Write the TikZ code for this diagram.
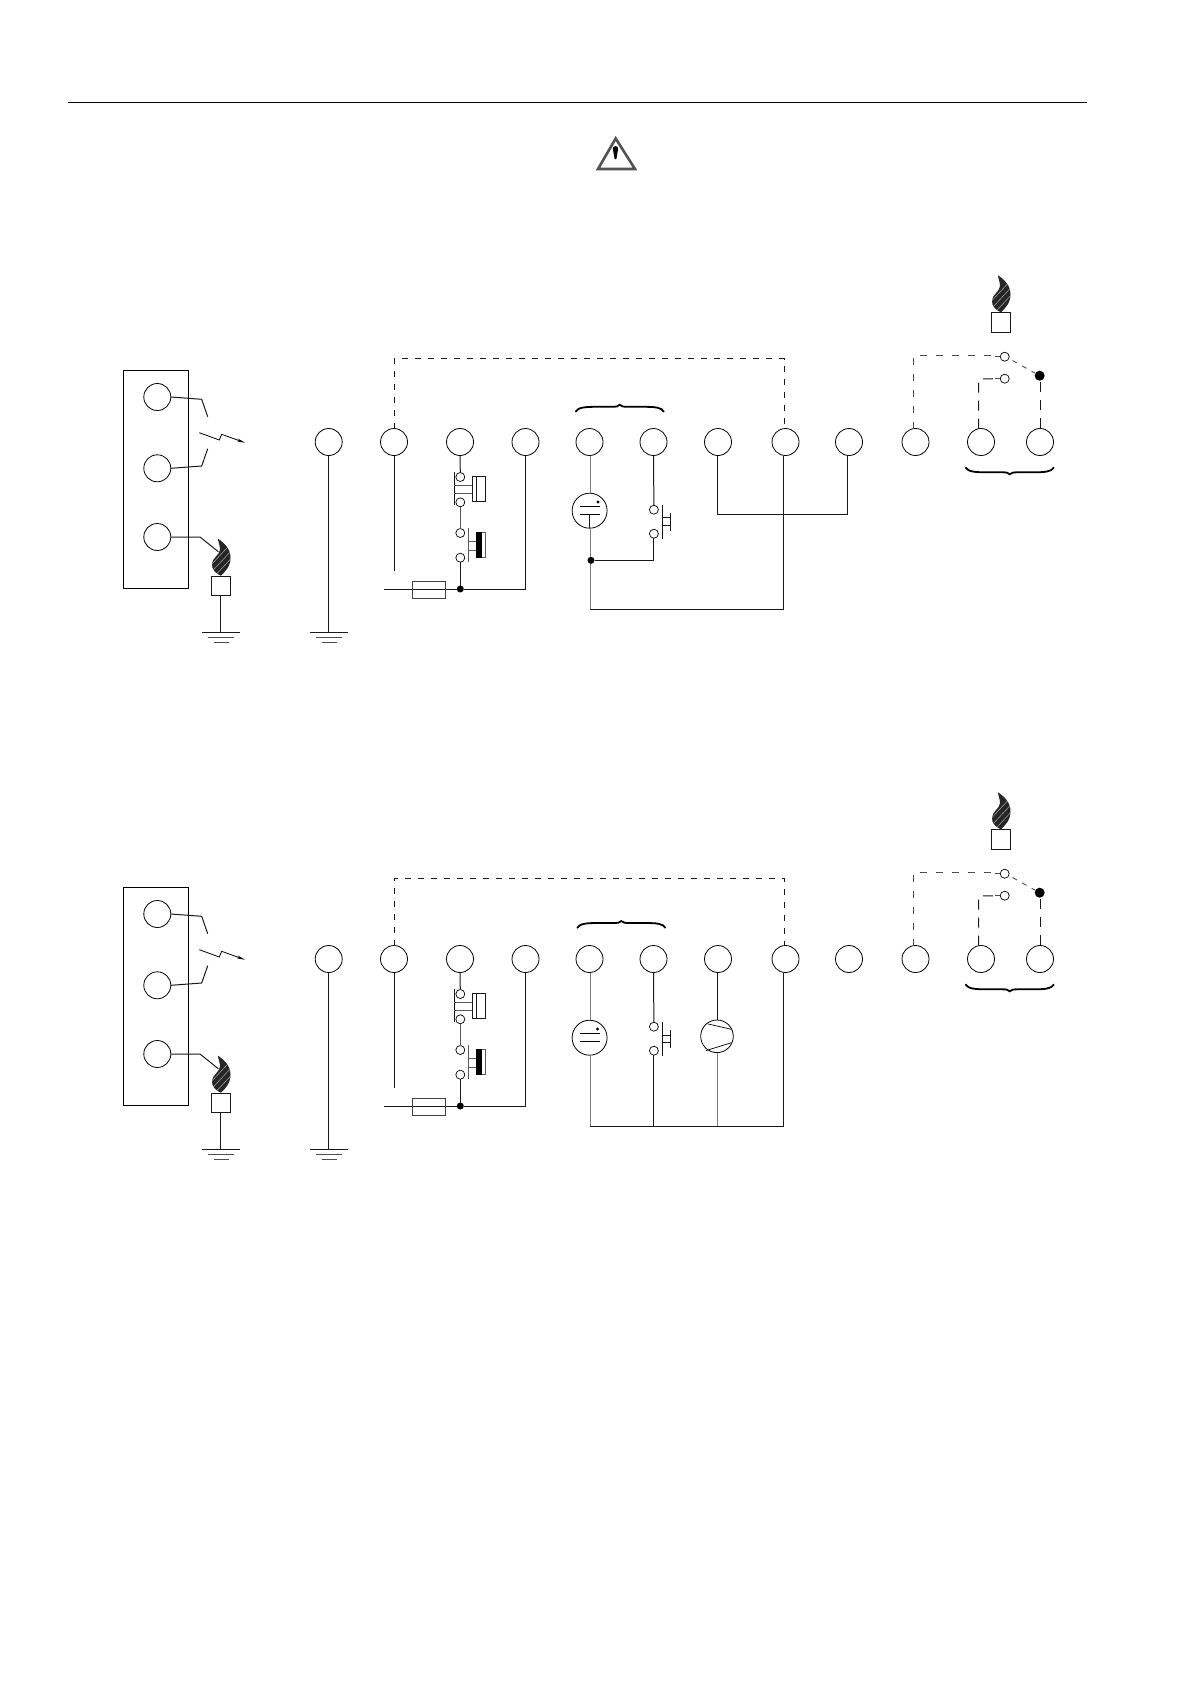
\documentclass[tikz,border=0pt]{standalone}
\usetikzlibrary{arrows.meta,calc}
\tikzset{
  x=1pt,y=-1pt,
  wire/.style={line width=1pt,black!90},
  wireg/.style={line width=1pt,black!50},
  dash wire/.style={line width=.9pt,black!90,dash pattern=on 6pt off 7pt},
  dash left/.style={line width=.9pt,black!70,dash pattern=on 7pt off 9pt},
  dash mid/.style={line width=1pt,black!90,dash pattern=on 10pt off 8pt},
  term/.style={circle,draw,fill=white,inner sep=0pt,outer sep=0pt,minimum size=27pt,line width=.8pt},
  contact/.style={circle,draw,fill=white,inner sep=0pt,outer sep=0pt,minimum size=9pt,line width=.7pt},
  junction/.style={circle,fill=black,inner sep=0pt,outer sep=0pt,minimum size=7pt},
  bigjunction/.style={circle,fill=black,inner sep=0pt,outer sep=0pt,minimum size=10pt},
  boxline/.style={line width=.8pt,black!90},
  bracestroke/.style={line width=1.8pt,black},
}
\newcommand{\flamepath}{(-3,-37) .. controls (3,-33) and (9.5,-27) .. (9.5,-18) .. controls (9.5,-9) and (4,-4) .. (0,0) .. controls (-5,-2) and (-9.5,-6) .. (-9,-12) .. controls (-8.5,-18) and (-2,-20) .. (-1,-26) .. controls (-1,-31) and (-3,-34) .. (-3,-37) -- cycle}
\newcommand{\flameat}[2]{%
  \begin{scope}[shift={(#1,#2)}]
    \fill[black!85] \flamepath;
    \begin{scope}
      \clip \flamepath;
      \foreach \k in {-10,-3,4,11}{
        \draw[black!30,line width=.45pt] (\k-10,0) -- (\k+18,-30);
      }
    \end{scope}
  \end{scope}}
\newcommand{\ground}[2]{%
  \draw[wire] (#1-19,#2) -- (#1+19,#2);
  \draw[wire,black!70] (#1-13,#2+5) -- (#1+13,#2+5);
  \draw[wire,black!70] (#1-7.5,#2+10) -- (#1+7.5,#2+10);}
\newcommand{\bracepath}{(0,7) .. controls (3,2.5) and (9,2) .. (22,2) -- (36,2) .. controls (41,2) and (43,1.7) .. (44.3,0) .. controls (45.6,1.7) and (48,2) .. (53,2) -- (67,2) .. controls (80,2) and (86,2.5) .. (88.6,7)}
\newcommand{\commonblock}[3]{% prefix, dy, dashed top y (local)
  \begin{scope}[shift={(0,#2)}]
    % panel
    \draw[line width=.9pt] (123.3,370.3) rectangle (188.7,588.3);
    \node[term] (#1L1) at (157.3,397) {};
    \node[term] (#1L2) at (157.3,468.3) {};
    \node[term] (#1L3) at (157.3,537) {};
    \coordinate (#1E1) at (207.7,416.7);
    \coordinate (#1E2) at (207.7,448.7);
    \coordinate (#1E3) at (218.3,551.7);
    \draw[wire] (#1L1.east) -- (201.7,399.3) -- (#1E1);
    \draw[wire] (#1L2.east) -- (201.7,466) -- (#1E2);
    \draw[wire] (#1L3.east) -- (200,537) -- (#1E3);
    % spark
    \coordinate (#1S) at (199.3,432.7);
    \coordinate (#1Sx) at (245,442.7);
    \draw[line width=.8pt,-{Stealth[length=8pt,width=3pt]}] (#1S) -- (219.3,440) -- (221.7,434.3) -- (#1Sx);
    % burner
    \flameat{221}{575.7}
    \node[draw,boxline,fill=white,minimum size=19.4pt,inner sep=0pt,outer sep=0pt] (#1B) at (221,585.7) {};
    \coordinate (#1G0) at (220.5,632.3);
    \draw[wire] (#1B.south -| #1G0) -- (#1G0);
    \ground{221}{632.3}
    % terminals
    \node[term] (#1T1) at (328.7,442) {};
    \node[term] (#1T2) at (394,442) {};
    \node[term] (#1T3) at (460,442) {};
    \node[term] (#1T4) at (525.5,442) {};
    \node[term] (#1T5) at (589.5,442) {};
    \node[term] (#1T6) at (653.5,442) {};
    \node[term] (#1T7) at (718,442) {};
    \node[term] (#1T8) at (785.5,442) {};
    \node[term] (#1T9) at (849,442) {};
    \node[term] (#1T10) at (915.5,442) {};
    \node[term] (#1T11) at (981,442) {};
    \node[term] (#1T12) at (1040,442) {};
    % earth
    \coordinate (#1G1) at (328.7,632.3);
    \draw[wire] (#1T1.south) -- (#1G1);
    \ground{329}{632.3}
    % dashed link
    \coordinate (#1D) at (394,#3);
    \coordinate (#1Dr) at (784.8,428.5);
    \draw[dash wire] (#1T2.north) -- (#1D) -- (#1D -| #1Dr) -- (#1Dr);
    % supply
    \coordinate (#1N) at (394,570.7);
    \draw[wire] (#1T2.south) -- (#1N);
    \node[contact] (#1C1) at (460.3,477) {};
    \node[contact] (#1C2) at (460.3,502.3) {};
    \node[contact] (#1C3) at (460.3,533) {};
    \node[contact] (#1C4) at (460.3,557.7) {};
    \node[junction] (#1J) at (460.3,589) {};
    \coordinate (#1W) at (384,589);
    \draw[wire] (#1T3.south) -- (#1C1.north);
    \draw[wire,black!65] (#1C2.south) -- (#1C3.north);
    \draw[wire] (#1C4.south) -- (#1J);
    \draw[wire] (#1W) -- (#1J) -- (#1J -| #1T4.south) -- (#1T4.south);
    \node[draw,boxline,black!75,minimum width=33.4pt,minimum height=17pt,inner sep=0pt,outer sep=0pt] (#1F) at (429,589.8) {};
    % upper button
    \draw[boxline] (454.3,471.7) -- (454.3,505);
    \draw[boxline,black!65] (454.3,485.3) -- (472.3,485.3) (454.3,493.3) -- (472.3,493.3);
    \draw[boxline] (472.3,476.3) rectangle (485.3,501.7) (476.3,476.3) -- (476.3,501.7);
    % lower button
    \draw[boxline,black!65] (468.3,528.3) -- (468.3,561.7);
    \draw[boxline,black!65] (468.3,541.7) -- (476,541.7) (468.3,550) -- (476,550);
    \draw[boxline,black!65] (476,532.3) rectangle (485,557.7);
    \fill[black] (476,532.3) rectangle (482,557.7);
    % switch
    \node[contact] (#1K1) at (1004.7,356.7) {};
    \node[contact] (#1K2) at (1004.7,378.7) {};
    \node[bigjunction] (#1K3) at (1039.7,375.7) {};
    \coordinate (#1A) at (913,355);
    \coordinate (#1B2) at (978.5,379);
    \coordinate (#1R) at (1040.6,428);
    \draw[dash left] (#1A |- #1T10.north) -- (#1A) -- (#1A -| #1K1.west);
    \draw[wire,black!70] ($(#1K1.west)+(-5,0)$) -- (#1K1.west);
    \draw[dash mid] (#1B2 |- #1T11.north) -- (#1B2) -- (#1K2.west);
    \draw[wire,black!70] ($(#1K2.west)+(-5,0)$) -- (#1K2.west);
    \draw[dash mid] (#1R) -- (#1K3.south -| #1R);
    \draw[dash left,dash pattern=on 5pt off 6pt] (1012.5,360.5) -- (#1K3);
    % lower brace
    \begin{scope}[shift={(965.4,474.3)},y=1pt]
      \draw[bracestroke] \bracepath;
    \end{scope}
  \end{scope}}
\begin{document}
\begin{tikzpicture}
\useasboundingbox (0,0) rectangle (1190,1684);
\fill[white] (0,0) rectangle (1190,1684);
% header rule
\coordinate (ruleA) at (68,102.6);
\coordinate (ruleB) at (1087,102.6);
\draw[line width=.8pt] (ruleA) -- (ruleB);
% warning sign
\draw[line width=2.6pt,black!68,line join=miter] (615.7,138.5) -- (635,169) -- (598,169) -- cycle;
\fill[black] (612.8,148.5) .. controls (612.8,145.3) and (618.2,145.3) .. (618.2,148.5) -- (616.4,159) -- (614.6,159) -- cycle;
% ---------- first diagram
\commonblock{a}{0}{358.5}
\flameat{1001}{312.3}
\node[draw,boxline,fill=white,minimum size=19.4pt,inner sep=0pt,outer sep=0pt] (aB3) at (1001,322.3) {};
\begin{scope}[shift={(575.4,404.8)}]
  \draw[bracestroke] \bracepath;
\end{scope}
% tube
\coordinate (aV) at (590,609.3);
\node[circle,draw,line width=.8pt,inner sep=0pt,outer sep=0pt,minimum size=35pt] (aP) at (589.6,510.7) {};
\draw[wireg] (aT5.south -| aV) -- (aP.north -| aV);
\draw[wireg] (aP.south -| aV) -- (aV);
\draw[wire] (589.6,514.3) -- (aP.south);
\draw[line width=.8pt] (579.6,506) -- (600.4,506) (579.6,514.3) -- (600.4,514.3);
\fill (597.9,502) circle (1.6);
% door switch
\node[contact] (aQ1) at (653.9,509.7) {};
\node[contact] (aQ2) at (653.9,533.7) {};
\node[junction] (aJ2) at (591,560.3) {};
\draw[wire] (aT6.south) -- (aQ1.north);
\draw[wire] (aQ2.south) -- (aQ2.south |- aJ2) -- (aJ2);
\draw[boxline] (662.5,505) -- (662.5,538.7) (662.5,517.7) -- (670.7,517.7) (662.5,525.3) -- (670.7,525.3) (670.7,513.3) -- (670.7,530.7);
% links
\coordinate (aV8) at (783.6,455.5);
\draw[wire] (aV) -- (aV -| aV8) -- (aV8);
\coordinate (aH) at (717.5,514);
\coordinate (aV9) at (847.5,455.5);
\coordinate (aV7) at (717.5,455.5);
\draw[wire] (aV7) -- (aH) -- (aH -| aV9) -- (aV9);
% ---------- second diagram
\commonblock{b}{517}{361.4}
\flameat{1001}{829.3}
\node[draw,boxline,fill=white,minimum size=19.4pt,inner sep=0pt,outer sep=0pt] (bB3) at (1001,839.3) {};
\begin{scope}[shift={(577,921)}]
  \draw[bracestroke] \bracepath;
\end{scope}
\coordinate (bV) at (590,1126.3);
\node[circle,draw,line width=.8pt,inner sep=0pt,outer sep=0pt,minimum size=35pt] (bP) at (589.6,1037.7) {};
\draw[wireg] (bT5.south -| bV) -- (bP.north -| bV);
\draw[wireg] (bP.south -| bV) -- (bV);
\draw[line width=.8pt] (579.6,1033.3) -- (600.4,1033.3) (579.6,1041.7) -- (600.4,1041.7);
\fill (597.5,1029) circle (1.6);
\node[contact] (bQ1) at (653.9,1026.7) {};
\node[contact] (bQ2) at (653.9,1050.7) {};
\draw[wire] (bT6.south) -- (bQ1.north);
\draw[wire] (bQ2.south) -- (bQ2.south |- bV);
\draw[boxline] (662.5,1022.3) -- (662.5,1055.7) (662.5,1035) -- (670.7,1035) (662.5,1042.7) -- (670.7,1042.7) (670.7,1030) -- (670.7,1047.7);
\node[circle,draw,line width=.8pt,inner sep=0pt,outer sep=0pt,minimum size=32.6pt] (bM) at (717,1036.3) {};
\coordinate (bM7) at (717.5,972.5);
\draw[wire] (bM7) -- (bM7 |- bM.north);
\draw[wireg] (bM.south) -- (bM.south |- bV);
\draw[line width=.7pt] (708.2,1024) -- (731.4,1029.3) (705.7,1050.7) -- (731.4,1042.7);
\coordinate (bV8) at (783.6,972.5);
\draw[wire] (bV) -- (bV -| bV8) -- (bV8);
\end{tikzpicture}
\end{document}
